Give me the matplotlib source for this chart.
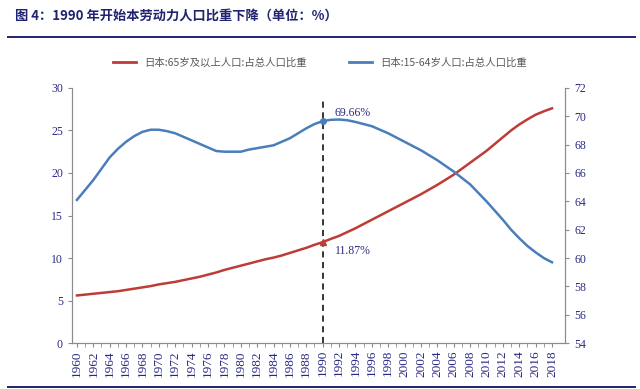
import numpy as np
import matplotlib.pyplot as plt
from matplotlib.lines import Line2D

plt.rcParams['font.family'] = ['Liberation Serif', 'Noto Sans CJK SC', 'DejaVu Sans']

# 年份与数据
years = list(range(1960, 2019))
old_share = [5.6, 5.7, 5.8, 5.9, 6.0, 6.1, 6.25, 6.4, 6.55, 6.7,
             6.9, 7.05, 7.2, 7.4, 7.6, 7.8, 8.05, 8.3, 8.6, 8.85,
             9.1, 9.35, 9.6, 9.85, 10.05, 10.3, 10.6, 10.9, 11.2, 11.55,
             11.87, 12.25, 12.6, 13.05, 13.5, 14.0, 14.5, 15.0, 15.5, 16.0,
             16.5, 17.0, 17.5, 18.05, 18.6, 19.2, 19.8, 20.5, 21.2, 21.9,
             22.6, 23.4, 24.2, 25.0, 25.7, 26.3, 26.85, 27.25, 27.6]
work_share = [64.1, 64.8, 65.5, 66.3, 67.1, 67.7, 68.2, 68.6, 68.9, 69.05,
              69.05, 68.95, 68.8, 68.55, 68.3, 68.05, 67.8, 67.55, 67.5, 67.5,
              67.5, 67.65, 67.75, 67.85, 67.95, 68.2, 68.45, 68.8, 69.15, 69.45,
              69.66, 69.75, 69.77, 69.72, 69.6, 69.45, 69.3, 69.05, 68.8, 68.5,
              68.2, 67.9, 67.6, 67.25, 66.9, 66.5, 66.1, 65.65, 65.2, 64.6,
              64.0, 63.35, 62.7, 62.0, 61.4, 60.85, 60.4, 60.0, 59.7]
label_old = '日本:65岁及以上人口:占总人口比重'
label_work = '日本:15-64岁人口:占总人口比重'
mark_year = 1990

red = '#BE3B36'
blue = '#4A7EBB'
navy = '#2B2A84'
grey = '#8C8C8C'

fig = plt.figure(figsize=(6.4, 3.89), dpi=100)
ax = fig.add_axes([0.1125, 0.118, 0.7705, 0.656])
ax2 = ax.twinx()

x = np.arange(len(years))
ax.plot(x, old_share, color=red, lw=1.8, zorder=3)
ax2.plot(x, work_share, color=blue, lw=1.8, zorder=3)

i = years.index(mark_year)
ax.plot(x[i], old_share[i], marker='^', color=red, ms=5, zorder=4)
ax2.plot(x[i], work_share[i], marker='o', color=blue, ms=4, zorder=4)
ax.axvline(x[i], ymin=0, ymax=0.96, color='black', ls=(0, (4, 3)), lw=1.1, zorder=2)
ax.text(x[i] + 1.5, old_share[i] - 1.0, f'{old_share[i]:.2f}%', color=navy, fontsize=8.5, va='center')
ax2.text(x[i] + 1.5, work_share[i] + 0.6, f'{work_share[i]:.2f}%', color=navy, fontsize=8.5, va='center')

ax.set_xlim(-0.6, len(years) + 0.6)
ax.set_ylim(0, 30)
ax2.set_ylim(54, 72)
ax.set_yticks(range(0, 31, 5))
ax2.set_yticks(range(54, 73, 2))
ax.set_xticks(x[::2])
ax.set_xticklabels([str(y) for y in years[::2]], rotation=90)
ax.set_xticks(x, minor=True)

for a in (ax, ax2):
    a.spines['top'].set_visible(False)
    for s in ('left', 'right', 'bottom'):
        a.spines[s].set_color(grey)
    a.tick_params(colors=grey, labelcolor=navy, labelsize=8.5, length=3)
ax.tick_params(axis='x', which='both', length=3, colors=grey, labelcolor=navy, labelsize=9.5, pad=2)
ax.tick_params(axis='x', which='minor', length=3, color=grey)

handles = [Line2D([], [], color=red, lw=2), Line2D([], [], color=blue, lw=2)]
fig.legend(handles, [label_old, label_work], loc='center', bbox_to_anchor=(0.5, 0.84),
           ncol=2, frameon=False, labelcolor='#595959',
           handlelength=2.2, columnspacing=4, prop={'family': ['Noto Sans CJK SC'], 'size': 7.5})

fig.text(0.023, 0.96, '图 4：1990 年开始本劳动力人口比重下降（单位：%）', color='#1F2370',
         fontsize=9.5, fontweight='bold', va='center', family=['Noto Sans CJK SC'])
fig.add_artist(Line2D([0.013, 0.992], [0.905, 0.905], color='#1F2370', lw=1.4))
fig.add_artist(Line2D([0.013, 0.992], [0.006, 0.006], color='#1F2370', lw=1.4))

fig.savefig('out.png', dpi=100)
